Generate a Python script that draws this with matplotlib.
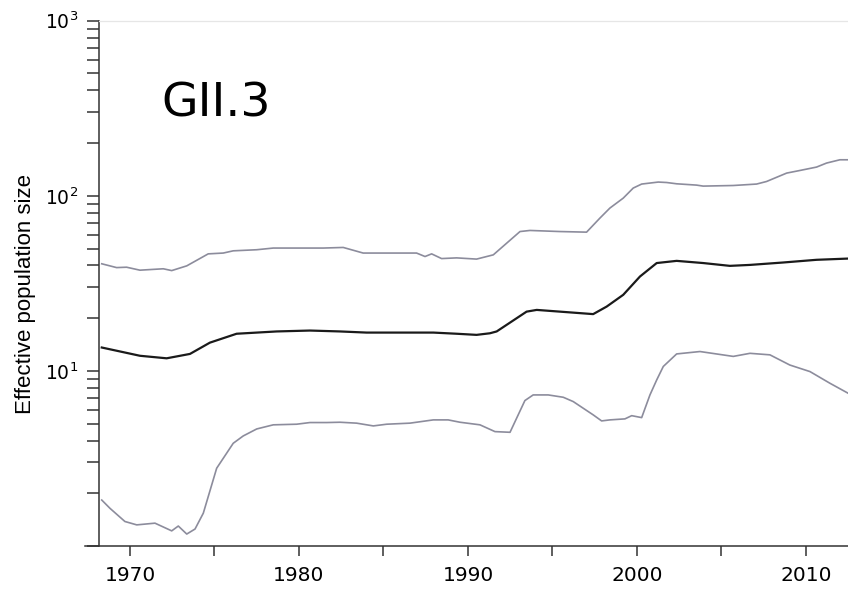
import numpy as np
import matplotlib.pyplot as plt
from matplotlib.ticker import FuncFormatter

# median Ne estimate
med_years = [1968.33, 1970.59, 1972.17, 1973.55, 1974.73, 1976.31, 1978.68, 1980.65,
             1982.43, 1984.0, 1987.95, 1989.33, 1990.51, 1991.3, 1991.7, 1993.47,
             1994.07, 1995.44, 1997.41, 1998.21, 1999.19, 2000.18, 2001.17, 2002.35,
             2003.92, 2005.5, 2006.69, 2008.66, 2010.63, 2012.49]
med_vals = [13.6, 12.2, 11.8, 12.5, 14.5, 16.3, 16.8, 17.0,
            16.8, 16.55, 16.55, 16.3, 16.06, 16.4, 16.8, 21.8,
            22.3, 21.8, 21.1, 23.3, 27.2, 34.6, 41.3, 42.5,
            41.3, 39.8, 40.3, 41.6, 43.1, 43.8]

# upper 95% HPD
up_years = [1968.33, 1969.21, 1969.8, 1970.59, 1971.97, 1972.47, 1973.36, 1974.63,
            1975.52, 1976.11, 1977.5, 1978.48, 1979.86, 1981.44, 1982.62, 1983.8,
            1986.96, 1987.46, 1987.85, 1988.44, 1989.33, 1990.51, 1991.5, 1993.08,
            1993.67, 1995.44, 1997.02, 1997.81, 1998.4, 1999.19, 1999.78, 2000.28,
            2001.26, 2001.76, 2002.35, 2003.53, 2003.92, 2005.7, 2007.08, 2007.67,
            2008.86, 2009.64, 2010.63, 2011.22, 2012.01, 2012.49]
up_vals = [40.9, 38.9, 39.1, 37.6, 38.3, 37.4, 39.8, 46.6,
           47.1, 48.5, 49.2, 50.3, 50.3, 50.3, 50.7, 47.1,
           47.1, 45.0, 46.6, 43.8, 44.2, 43.5, 46.0, 62.5,
           63.4, 62.5, 62.0, 74.6, 85.1, 97.0, 110.7, 116.7,
           119.8, 119.1, 117.1, 115.1, 113.6, 114.5, 116.7, 120.7,
           134.8, 139.5, 145.9, 153.8, 160.6, 160.6]

# lower 95% HPD
low_years = [1968.33, 1968.82, 1969.7, 1970.4, 1971.48, 1972.47, 1972.86, 1973.36,
             1973.85, 1974.34, 1975.13, 1976.11, 1976.7, 1977.5, 1978.48, 1979.86,
             1980.65, 1981.64, 1982.43, 1983.41, 1984.4, 1985.19, 1986.57, 1987.95,
             1988.83, 1989.53, 1990.71, 1991.6, 1992.49, 1993.37, 1993.86, 1994.75,
             1995.64, 1996.23, 1997.41, 1997.91, 1998.4, 1999.29, 1999.69, 2000.28,
             2000.77, 2001.17, 2001.56, 2002.35, 2003.73, 2005.7, 2006.69, 2007.87,
             2009.05, 2010.24, 2011.42, 2012.49]
low_vals = [1.83, 1.64, 1.38, 1.32, 1.35, 1.22, 1.30, 1.17,
            1.25, 1.54, 2.78, 3.86, 4.25, 4.66, 4.92, 4.96,
            5.07, 5.07, 5.09, 5.03, 4.85, 4.96, 5.03, 5.25,
            5.25, 5.09, 4.92, 4.50, 4.46, 6.77, 7.29, 7.29,
            7.07, 6.68, 5.61, 5.18, 5.25, 5.32, 5.55, 5.41,
            7.29, 8.88, 10.6, 12.5, 12.9, 12.1, 12.6, 12.35,
            10.8, 9.91, 8.50, 7.46]

x_ticks = [1970, 1975, 1980, 1985, 1990, 1995, 2000, 2005, 2010]
x_labels = ['1970', '', '1980', '', '1990', '', '2000', '', '2010']


def pow_label(v, pos):
    # no label on the bottom decade
    if v < 5:
        return ''
    return '$\\mathdefault{10^{%d}}$' % int(round(np.log10(v)))


fig = plt.figure(figsize=(8.48, 5.9), dpi=100)
ax = fig.add_axes([0.1164, 0.0746, 0.8836, 0.8903])

band_color = '#8c8c9c'
ax.plot(up_years, up_vals, color=band_color, lw=1.2)
ax.plot(low_years, low_vals, color=band_color, lw=1.2)
ax.plot(med_years, med_vals, color='#1a1a1a', lw=1.6)

ax.set_yscale('log')
ax.set_ylim(1, 1000)
ax.set_xlim(1968.15, 2012.49)
ax.yaxis.set_major_formatter(FuncFormatter(pow_label))

ax.set_xticks(x_ticks)
ax.set_xticklabels(x_labels)

axis_color = '#333333'
for side in ['left', 'bottom']:
    ax.spines[side].set_color(axis_color)
    ax.spines[side].set_linewidth(1.1)
ax.spines['right'].set_visible(False)
ax.spines['top'].set_color('#e6e6e6')
ax.spines['top'].set_linewidth(0.9)
ax.spines['bottom'].set_bounds(1967.34, 2012.49)

ax.tick_params(axis='x', which='major', length=7.5, width=1.1, color=axis_color,
               labelsize=14.5, pad=7, direction='out')
ax.tick_params(axis='y', which='both', length=9, width=1.1, color=axis_color,
               direction='out')
ax.tick_params(axis='y', which='major', labelsize=13.5, pad=6)
ax.tick_params(axis='y', which='minor', labelleft=False)

ax.set_ylabel('Effective population size', fontsize=16, family='Liberation Sans')
ax.yaxis.set_label_coords(-0.084, 0.48)

ax.text(0.0831, 0.8167, 'GII.3', transform=ax.transAxes, fontsize=34,
        ha='left', va='baseline')

fig.savefig('out.png', dpi=100)
